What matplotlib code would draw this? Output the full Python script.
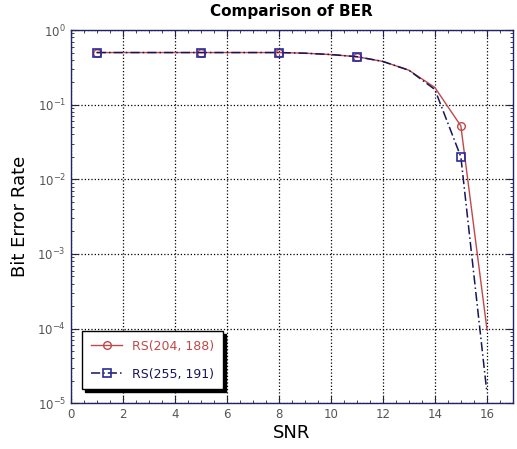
import matplotlib
matplotlib.use("Agg")
import matplotlib.pyplot as plt
import matplotlib.ticker as mticker

snr = [1, 5, 8, 9, 10, 11, 12, 13, 14, 15, 16]
ber_rs204 = [0.5, 0.5, 0.5, 0.49, 0.47, 0.44, 0.38, 0.29, 0.17, 0.052, 1.0e-4]
ber_rs255 = [0.5, 0.5, 0.5, 0.49, 0.47, 0.44, 0.38, 0.29, 0.16, 0.02, 1.4e-5]
marker_idx = [0, 1, 2, 5, 9]
labels = ["RS(204, 188)", "RS(255, 191)"]
xticks = [0, 2, 4, 6, 8, 10, 12, 14, 16]

fig = plt.figure(figsize=(5.17, 4.49), dpi=100)
ax = fig.add_axes([0.137, 0.102, 0.855, 0.831])

ax.semilogy(snr, ber_rs204, color="#c04848", lw=1.0, marker="o", ms=5.5,
            mfc="none", mec="#c04848", markevery=marker_idx, label=labels[0])
ax.semilogy(snr, ber_rs255, color="#15155a", lw=1.1, ls=(0, (6, 2, 1, 2)), marker="s", ms=5.5,
            mfc="none", mec="#2a2a9a", mew=1.2, markevery=marker_idx, label=labels[1])

ax.set_xlim(0, 17)
ax.set_ylim(1e-5, 1)
ax.set_xticks(xticks)
ax.set_yticks([1e0, 1e-1, 1e-2, 1e-3, 1e-4, 1e-5])
ax.yaxis.set_major_formatter(mticker.LogFormatterMathtext())
ax.xaxis.set_minor_locator(mticker.MultipleLocator(0.5))
ax.yaxis.set_minor_locator(mticker.LogLocator(base=10, subs=range(2, 10), numticks=20))
ax.yaxis.set_minor_formatter(mticker.NullFormatter())

ax.grid(True, which="major", color="black", ls=":", lw=0.9)
ax.tick_params(which="both", direction="in", top=True, right=True, colors="#222244",
               labelcolor="#555555", labelsize=8.5)
ax.tick_params(which="major", length=5)
ax.tick_params(which="minor", length=2.5)
for s in ax.spines.values():
    s.set_color("#222266")
    s.set_linewidth(1.0)

ax.set_title("Comparison of BER", fontsize=11, fontweight="bold", pad=10)
ax.set_xlabel("SNR", fontsize=13, labelpad=2)
ax.set_ylabel("Bit Error Rate", fontsize=13, labelpad=6)

leg = ax.legend(loc="lower left", bbox_to_anchor=(0.012, 0.02), fontsize=9,
                fancybox=False, shadow={"color": "black", "alpha": 1.0},
                framealpha=1, edgecolor="black",
                borderpad=0.7, labelspacing=1.2, handlelength=2.5)
leg.get_frame().set_linewidth(1.0)
for t, c in zip(leg.get_texts(), ["#c04848", "#15155a"]):
    t.set_color(c)

fig.savefig("out.png", dpi=100)
